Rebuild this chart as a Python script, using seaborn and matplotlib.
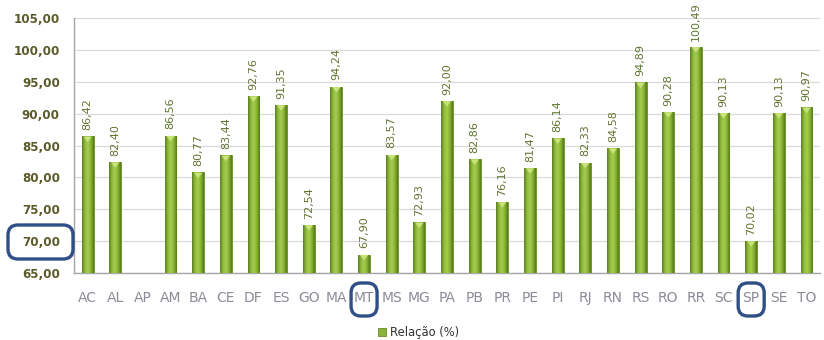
import numpy as np
import pandas as pd
import matplotlib
matplotlib.use("Agg")
import matplotlib.pyplot as plt
import seaborn as sns
from matplotlib.patches import FancyBboxPatch
from matplotlib.colors import LinearSegmentedColormap

states = ["AC", "AL", "AP", "AM", "BA", "CE", "DF", "ES", "GO", "MA", "MT", "MS", "MG", "PA",
          "PB", "PR", "PE", "PI", "RJ", "RN", "RS", "RO", "RR", "SC", "SP", "SE", "TO"]
values = [86.42, 82.40, np.nan, 86.56, 80.77, 83.44, 92.76, 91.35, 72.54, 94.24, 67.90, 83.57,
          72.93, 92.00, 82.86, 76.16, 81.47, 86.14, 82.33, 84.58, 94.89, 90.28, 100.49, 90.13,
          70.02, 90.13, 90.97]
y_ticks = [65, 70, 75, 80, 85, 90, 95, 100, 105]
series_name = "Relação (%)"
highlight_states = ["MT", "SP"]
highlight_tick = 70

df = pd.DataFrame({"UF": states, "valor": values})

sns.set_theme(style="white")
plt.rcParams['font.family'] = ['DejaVu Sans']

fig = plt.figure(figsize=(8.24, 3.40), dpi=100)
ax = fig.add_axes([0.0895, 0.197, 0.906, 0.750])

sns.barplot(data=df, x="UF", y="valor", color="#8AB33A", width=0.43, ax=ax,
            saturation=1, edgecolor="#6A8C25", linewidth=0.6, label=series_name, zorder=3)

ax.set_ylim(65, 105)
ax.set_xlim(-0.5, len(states) - 0.5)
ax.set_yticks(y_ticks)
ax.set_yticklabels([f"{v:.2f}".replace(".", ",") for v in y_ticks],
                   fontsize=8.6, fontweight="bold", color="#5A5A2A")
ax.tick_params(axis="x", labelsize=10, colors="#8A8C96", length=0, pad=13)
ax.tick_params(axis="y", length=0, pad=10)
ax.set_xlabel("")
ax.set_ylabel("")
ax.yaxis.grid(True, color="#D9D9D9", linewidth=0.9, zorder=0)
ax.xaxis.grid(False)
for s in ["top", "right"]:
    ax.spines[s].set_visible(False)
for s in ["left", "bottom"]:
    ax.spines[s].set_color("#A6A6A6")
    ax.spines[s].set_linewidth(1.0)

# gradient fill on bars
cmap = LinearSegmentedColormap.from_list("g", ["#5A7E1E", "#8FBB3E", "#A5CD4E", "#86B236", "#557A1A"])
grad = np.linspace(0, 1, 64).reshape(1, -1)
for p in ax.patches:
    h = p.get_height()
    if not np.isfinite(h) or h <= 0:
        continue
    x0, w = p.get_x(), p.get_width()
    im = ax.imshow(grad, cmap=cmap, aspect="auto", extent=[x0, x0 + w, 65, h], zorder=3.5)
    im.set_clip_path(p)
    ax.fill([x0 + w * 0.15, x0 + w * 0.85, x0 + w * 0.5], [h - 0.05, h - 0.05, h - 0.9],
            color="#C9E27A", zorder=4, lw=0)

# value labels
for i, v in enumerate(values):
    if np.isfinite(v):
        ax.annotate(f"{v:.2f}".replace(".", ","), (i, v), xytext=(0, 4.5), textcoords="offset points",
                    rotation=90, ha="center", va="bottom", fontsize=8.0, color="#5F7530",
                    annotation_clip=False)

# legend
leg = ax.legend(loc="center", bbox_to_anchor=(0.462, -0.232), frameon=False, fontsize=8.3,
                handlelength=0.7, handleheight=0.7, handletextpad=0.3, labelcolor="#303030")

# highlight boxes
box_kw = dict(boxstyle="round,pad=0,rounding_size=0.012", fill=False, edgecolor="#2F4F86",
              linewidth=2.4, zorder=10, clip_on=False)
fig.patches.append(FancyBboxPatch((8 / 824, 1 - 259 / 340), 65 / 824, 34 / 340,
                                  transform=fig.transFigure, mutation_aspect=824 / 340, **box_kw))
for st in highlight_states:
    i = states.index(st)
    x_fig = fig.transFigure.inverted().transform(ax.transData.transform((i, 65)))[0]
    fig.patches.append(FancyBboxPatch((x_fig - 13 / 824, 1 - 316 / 340), 26 / 824, 33 / 340,
                                      transform=fig.transFigure, mutation_aspect=824 / 340, **box_kw))

fig.savefig("out.png", dpi=100)
